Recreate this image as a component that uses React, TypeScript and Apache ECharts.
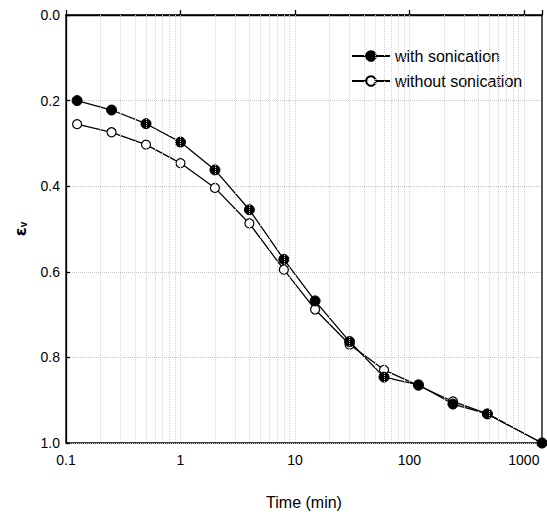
import React, { useEffect, useRef } from "react";
import * as echarts from "echarts";

const times = [0.125, 0.25, 0.5, 1, 2, 4, 8, 15, 30, 60, 120, 240, 480, 1440];
const withSonication = [0.2, 0.222, 0.254, 0.297, 0.362, 0.455, 0.571, 0.668, 0.763, 0.846, 0.864, 0.909, 0.932, 1.0];
const withoutSonication = [0.255, 0.274, 0.303, 0.346, 0.404, 0.487, 0.595, 0.688, 0.77, 0.829, 0.866, 0.903, 0.932, 1.0];
const minorGridX = [
  0.2, 0.3, 0.4, 0.5, 0.6, 0.7, 0.8, 0.9, 1,
  2, 3, 4, 5, 6, 7, 8, 9, 10,
  20, 30, 40, 50, 60, 70, 80, 90, 100,
  200, 300, 400, 500, 600, 700, 800, 900, 1000,
];
const seriesNames = ["with sonication", "without sonication"];

export default function App() {
  const ref = useRef<HTMLDivElement>(null);
  useEffect(() => {
    if (!ref.current) return;
    const chart = echarts.init(ref.current, undefined, { renderer: "svg" });
    const font = "Liberation Sans, Arial, sans-serif";
    chart.setOption({
      animation: false,
      backgroundColor: "#fff",
      textStyle: { fontFamily: font },
      grid: {
        left: 66,
        top: 15,
        right: 5,
        bottom: 70,
        show: true,
        borderColor: "#000",
        borderWidth: 1.3,
        backgroundColor: "transparent",
      },
      legend: {
        orient: "vertical",
        left: 346,
        top: 43,
        itemWidth: 38,
        itemHeight: 12,
        itemGap: 9,
        textStyle: { fontSize: 16, color: "#000", fontFamily: font },
        data: seriesNames,
      },
      xAxis: {
        type: "log",
        logBase: 10,
        min: 0.1,
        max: 1440,
        axisLine: { show: true, lineStyle: { color: "#000", width: 1.3 } },
        axisTick: { show: true, inside: true, length: 5, lineStyle: { color: "#000", width: 1.3 } },
        splitLine: { show: false },
        minorTick: { show: false },
        axisLabel: {
          color: "#000",
          fontSize: 14,
          margin: 10,
          formatter: (v: number) => {
            const l = Math.log10(v);
            if (Math.abs(l - Math.round(l)) < 1e-6) {
              return String(Math.round(v * 10) / 10);
            }
            return "";
          },
        },
        name: "Time (min)",
        nameLocation: "middle",
        nameGap: 51,
        nameTextStyle: { color: "#000", fontSize: 16, fontFamily: font },
      },
      yAxis: {
        type: "value",
        inverse: true,
        min: 0,
        max: 1,
        interval: 0.2,
        axisLine: { show: true, lineStyle: { color: "#000", width: 1.3 } },
        axisTick: { show: true, inside: true, length: 4, lineStyle: { color: "#000", width: 1.3 } },
        splitLine: { show: true, lineStyle: { color: "#c4c4c4", type: "dotted", width: 1 } },
        axisLabel: {
          color: "#000",
          fontSize: 14,
          margin: 6,
          formatter: (v: number) => v.toFixed(1),
        },
        name: "{e|ε}{s|v}",
        nameLocation: "middle",
        nameRotate: 90,
        nameGap: 38,
        nameTextStyle: {
          rich: {
            e: { fontSize: 16, fontWeight: "bold", color: "#000", fontFamily: "DejaVu Sans" },
            s: { fontSize: 10, fontWeight: "bold", color: "#000", verticalAlign: "bottom", padding: [6, 0, 0, 0], fontFamily: font },
          },
        },
      },
      series: [
        {
          name: "grid",
          type: "line",
          data: [],
          silent: true,
          markLine: {
            silent: true,
            symbol: "none",
            label: { show: false },
            lineStyle: { color: "#d2d2d2", type: "dotted", width: 1 },
            data: minorGridX.map((x) => ({ xAxis: x })),
          },
        },
        {
          name: seriesNames[0],
          type: "line",
          data: times.map((t, i) => [t, withSonication[i]]),
          symbol: "circle",
          symbolSize: 10,
          lineStyle: { color: "#000", width: 1.3 },
          itemStyle: { color: "#000", borderColor: "#000", borderWidth: 1 },
          z: 4,
        },
        {
          name: seriesNames[1],
          type: "line",
          data: times.map((t, i) => [t, withoutSonication[i]]),
          symbol: "circle",
          symbolSize: 9,
          lineStyle: { color: "#000", width: 1.3 },
          itemStyle: { color: "#fff", borderColor: "#000", borderWidth: 1.2 },
          z: 3,
        },
      ],
    });
    return () => chart.dispose();
  }, []);
  return (
    <div
      ref={ref}
      style={{ position: "absolute", left: 0, top: 0, width: 547, height: 515 }}
    />
  );
}
